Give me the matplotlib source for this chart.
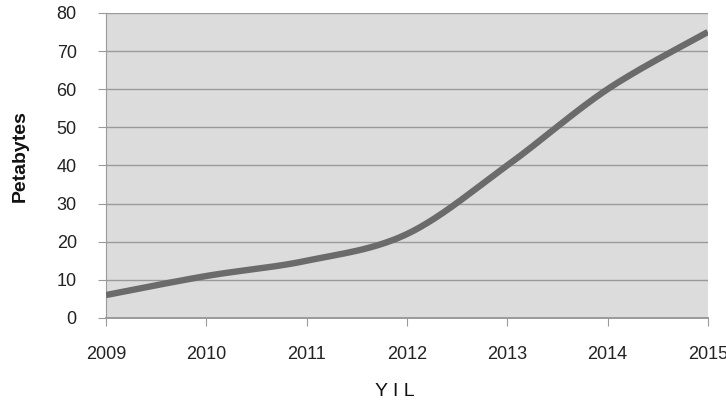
import numpy as np
import matplotlib
matplotlib.use("Agg")
import matplotlib.pyplot as plt

years = [2009, 2010, 2011, 2012, 2013, 2014, 2015]
petabytes = [6, 11, 15, 22, 40, 60, 75]
y_ticks = [0, 10, 20, 30, 40, 50, 60, 70, 80]

plt.rcParams['font.family'] = ['Liberation Sans', 'DejaVu Sans']


def smooth_curve(x, y, tension=0.5, steps=40):
    """Cardinal-spline path through the points (office-style smoothed line)."""
    x = np.asarray(x, float)
    y = np.asarray(y, float)
    px = np.concatenate([[x[0]], x, [x[-1]]])
    py = np.concatenate([[y[0]], y, [y[-1]]])
    xs, ys = [], []
    t = np.linspace(0, 1, steps)
    for i in range(1, len(px) - 2):
        p0 = np.array([px[i], py[i]])
        p3 = np.array([px[i + 1], py[i + 1]])
        m1 = (np.array([px[i + 1], py[i + 1]]) - np.array([px[i - 1], py[i - 1]])) * tension / 3
        m2 = (np.array([px[i + 2], py[i + 2]]) - np.array([px[i], py[i]])) * tension / 3
        p1 = p0 + m1
        p2 = p3 - m2
        b = ((1 - t) ** 3)[:, None] * p0 + (3 * (1 - t) ** 2 * t)[:, None] * p1 \
            + (3 * (1 - t) * t ** 2)[:, None] * p2 + (t ** 3)[:, None] * p3
        xs.extend(b[:, 0])
        ys.extend(b[:, 1])
    return np.array(xs), np.array(ys)


fig = plt.figure(figsize=(7.26, 4.05), dpi=100)
ax = fig.add_axes([0.146, 0.215, 0.829, 0.753])
ax.set_facecolor('#dcdcdc')

sx, sy = smooth_curve(years, petabytes)
ax.plot(sx, sy, color='#6b6b6b', lw=4.6, solid_capstyle='butt', zorder=3)

ax.set_xlim(years[0], years[-1])
ax.set_ylim(0, 80)
ax.set_xticks(years)
ax.set_yticks(y_ticks)
ax.grid(axis='y', color='#9a9a9a', lw=1.0)
ax.set_axisbelow(True)

for side in ['top', 'right']:
    ax.spines[side].set_visible(False)
ax.spines['left'].set_color('#9a9a9a')
ax.spines['bottom'].set_color('#9a9a9a')
ax.spines['bottom'].set_linewidth(1.4)

ax.tick_params(axis='y', length=6, color='#9a9a9a', labelsize=13, pad=15,
               labelcolor='#222222')
ax.tick_params(axis='x', length=6, color='#9a9a9a', labelsize=13, pad=14,
               labelcolor='#222222')

ax.set_ylabel('Petabytes', fontsize=14, fontweight='bold', color='#111111')
ax.yaxis.set_label_coords(-0.128, 0.531)
ax.set_xlabel('Y I L', fontsize=14, color='#111111')
ax.xaxis.set_label_coords(0.48, -0.215)

fig.savefig('out.png', dpi=100)
